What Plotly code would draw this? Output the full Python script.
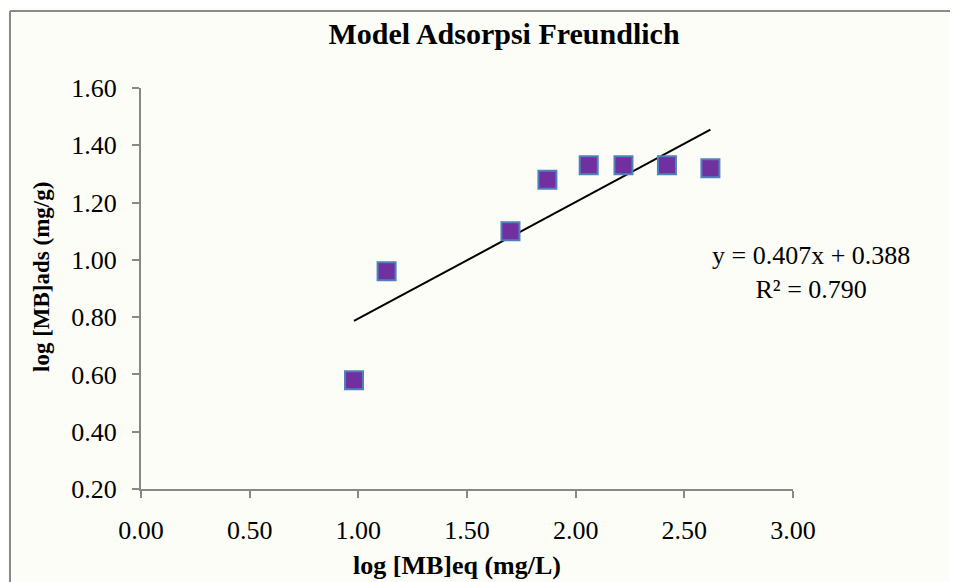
import plotly.graph_objects as go

log_ce = [0.98, 1.13, 1.70, 1.87, 2.06, 2.22, 2.42, 2.62]
log_qe = [0.58, 0.96, 1.10, 1.28, 1.33, 1.33, 1.33, 1.32]
slope = 0.407
intercept = 0.388
eq_text = "y = 0.407x + 0.388<br>R² = 0.790"
x_title = "<b>log [MB]eq (mg/L)</b>"
y_title = "<b>log [MB]ads (mg/g)</b>"

x_line = [min(log_ce), max(log_ce)]
y_line = [slope * v + intercept for v in x_line]

FONT = "Liberation Serif, Times New Roman, serif"
W, H = 958, 582
OFF = 8  # page body margin
L, R, T, B = 141 - OFF, 165 + OFF, 88 - OFF, 93 + OFF
pw, ph = W - L - R, H - T - B


def px(xp):
    return (xp - OFF - L) / pw


def py(yp):
    return (H - B - (yp - OFF)) / ph


fig = go.Figure()
fig.add_trace(go.Scatter(x=x_line, y=y_line, mode="lines",
                         line=dict(color="black", width=2), showlegend=False, hoverinfo="skip"))
fig.add_trace(go.Scatter(x=log_ce, y=log_qe, mode="markers",
                         marker=dict(symbol="square", size=18, color="#7030A0",
                                     line=dict(color="#4F81BD", width=2)),
                         showlegend=False))

# outer chart frame (cropped on right and bottom)
fig.add_shape(type="line", xref="paper", yref="paper", x0=px(10), x1=1.5, y0=py(11), y1=py(11),
              line=dict(color="#8a8a8a", width=2))
fig.add_shape(type="line", xref="paper", yref="paper", x0=px(10), x1=px(10), y0=py(11), y1=-0.5,
              line=dict(color="#8a8a8a", width=2))

fig.add_annotation(x=px(811), y=py(272), xref="paper", yref="paper", text=eq_text,
                   showarrow=False, align="center", xanchor="center", yanchor="middle",
                   font=dict(family=FONT, size=26, color="black"))
fig.add_annotation(x=px(457), y=py(565), xref="paper", yref="paper", text=x_title,
                   showarrow=False, xanchor="center", yanchor="middle",
                   font=dict(family=FONT, size=26, color="black"))
fig.add_annotation(x=px(41), y=py(277), xref="paper", yref="paper", text=y_title,
                   showarrow=False, textangle=-90, xanchor="center", yanchor="middle",
                   font=dict(family=FONT, size=23, color="black"))

fig.update_layout(
    width=W, height=H,
    margin=dict(l=L, r=R, t=T, b=B),
    paper_bgcolor="#fcfdf7", plot_bgcolor="#fcfdf7",
    title=dict(text="<b>Model Adsorpsi Freundlich</b>", x=(504 - OFF) / W, xanchor="center",
               y=1 - (33 - OFF) / H, yanchor="middle",
               font=dict(family=FONT, size=30, color="black")),
    xaxis=dict(range=[0, 3], dtick=0.5, tickformat=".2f", showgrid=False, zeroline=False,
               showline=True, linecolor="#888888", linewidth=2,
               ticks="outside", ticklen=7, tickcolor="#888888", tickwidth=2,
               ticklabelstandoff=10,
               tickfont=dict(family=FONT, size=26, color="black")),
    yaxis=dict(range=[0.2, 1.6], dtick=0.2, tickformat=".2f", showgrid=False, zeroline=False,
               showline=True, linecolor="#888888", linewidth=2,
               ticks="outside", ticklen=7, tickcolor="#888888", tickwidth=2,
               ticklabelstandoff=10,
               tickfont=dict(family=FONT, size=26, color="black")),
)

fig.write_html("out.html")
